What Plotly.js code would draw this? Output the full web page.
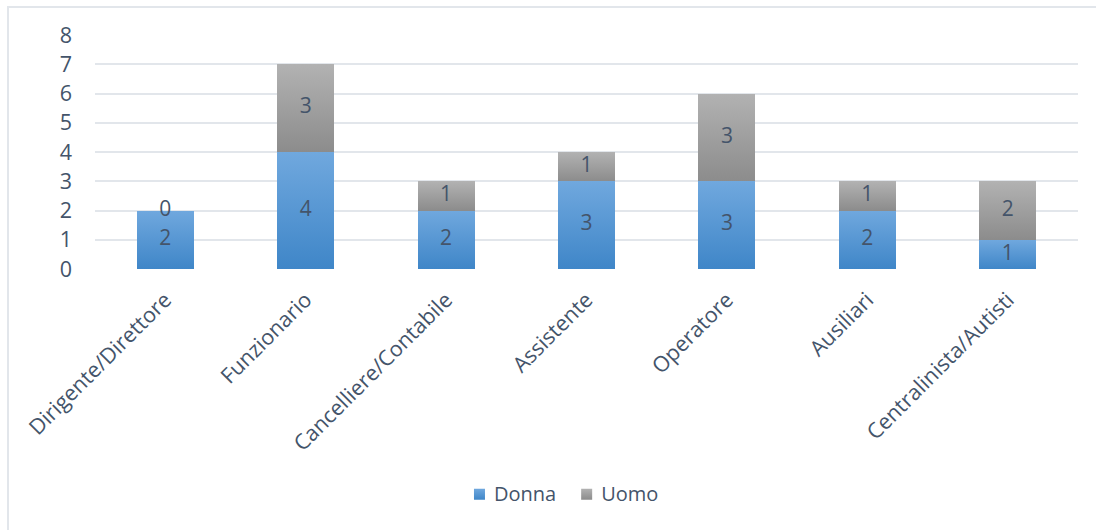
<!DOCTYPE html>
<html>
<head>
<meta charset="utf-8">
<script src="https://cdn.plot.ly/plotly-3.0.1.min.js"></script>
<style>
  html, body { margin: 0; padding: 0; background: #fff; }
  #wrap { position: relative; width: 1096px; height: 530px; overflow: hidden; }
  #frame { position: absolute; left: 7px; top: 6px; width: 1200px; height: 600px;
           border-left: 2px solid #e2e6eb; border-top: 2px solid #e2e6eb; box-sizing: border-box; pointer-events: none; }
  #chart { position: absolute; left: 0; top: 0; width: 1096px; height: 530px; }
</style>
</head>
<body>
<div id="wrap">
  <div id="chart"></div>
  <div id="frame"></div>
</div>
<script>
const categories = ["Dirigente/Direttore", "Funzionario", "Cancelliere/Contabile", "Assistente", "Operatore", "Ausiliari", "Centralinista/Autisti"];
const donna = [2, 4, 2, 3, 3, 2, 1];
const uomo  = [0, 3, 1, 1, 3, 1, 2];
const seriesNames = ["Donna", "Uomo"];

const textColor = "#44546A";
const fontFam = "'Open Sans', 'Noto Sans', sans-serif";

const donnaMid = donna.map(v => v / 2);
const uomoMid = uomo.map((v, i) => donna[i] + v / 2);

const traces = [
  { type: "bar", name: seriesNames[0], x: categories, y: donna, marker: { color: "#5B9BD5" }, hoverinfo: "skip" },
  { type: "bar", name: seriesNames[1], x: categories, y: uomo, marker: { color: "#A5A5A5" }, hoverinfo: "skip" },
  { type: "scatter", mode: "text", x: categories, y: donnaMid, text: donna.map(String), showlegend: false,
    textfont: { family: fontFam, size: 21, color: textColor }, hoverinfo: "skip", cliponaxis: false },
  { type: "scatter", mode: "text", x: categories, y: uomoMid, text: uomo.map(String), showlegend: false,
    textfont: { family: fontFam, size: 21, color: textColor }, hoverinfo: "skip", cliponaxis: false }
];

const layout = {
  width: 1096, height: 530,
  margin: { l: 95, r: 18, t: 35, b: 261 },
  paper_bgcolor: "rgba(0,0,0,0)", plot_bgcolor: "rgba(0,0,0,0)",
  barmode: "stack", bargap: 0.594,
  font: { family: fontFam, color: textColor, size: 20 },
  xaxis: { type: "category", tickangle: -45, showgrid: false, zeroline: false, showline: false,
           ticks: "", ticklabelstandoff: 13, tickfont: { size: 21.5, color: textColor } },
  yaxis: { range: [0, 8], dtick: 1, showgrid: true, gridcolor: "#e2e6eb", gridwidth: 2,
           zeroline: false, showline: false, ticks: "", ticklabelstandoff: 22,
           tickfont: { size: 21.5, color: textColor } },
  showlegend: true,
  legend: { orientation: "h", x: 0.472, xanchor: "center", y: -0.96, yanchor: "middle",
            font: { size: 20, color: textColor }, itemwidth: 30, traceorder: "normal" }
};

Plotly.newPlot("chart", traces, layout, { displayModeBar: false, staticPlot: true }).then(gd => {
  const svg = gd.querySelector("svg.main-svg");
  const ns = "http://www.w3.org/2000/svg";
  let defs = svg.querySelector("defs");
  if (!defs) { defs = document.createElementNS(ns, "defs"); svg.insertBefore(defs, svg.firstChild); }
  function grad(id, top, bottom) {
    const g = document.createElementNS(ns, "linearGradient");
    g.setAttribute("id", id); g.setAttribute("x1", "0"); g.setAttribute("y1", "0");
    g.setAttribute("x2", "0"); g.setAttribute("y2", "1");
    [[0, top], [1, bottom]].forEach(([o, c]) => {
      const s = document.createElementNS(ns, "stop");
      s.setAttribute("offset", o); s.setAttribute("stop-color", c); g.appendChild(s);
    });
    defs.appendChild(g);
  }
  grad("gDonna", "#70A8DE", "#3F86C8");
  grad("gUomo", "#B2B2B2", "#8C8C8C");
  const barTraces = gd.querySelectorAll(".barlayer .trace");
  const ids = ["gDonna", "gUomo"];
  barTraces.forEach((t, i) => {
    t.querySelectorAll("path").forEach(p => { p.style.fill = "url(#" + ids[i] + ")"; });
  });
  const legendItems = gd.querySelectorAll(".legend .traces");
  legendItems.forEach((t, i) => {
    t.querySelectorAll(".legendpoints path").forEach(p => {
      p.setAttribute("d", "M11,6H0V-5H11Z");
      p.style.fill = "url(#" + ids[i] + ")"; p.style.stroke = "none";
    });
  });
});
</script>
</body>
</html>
